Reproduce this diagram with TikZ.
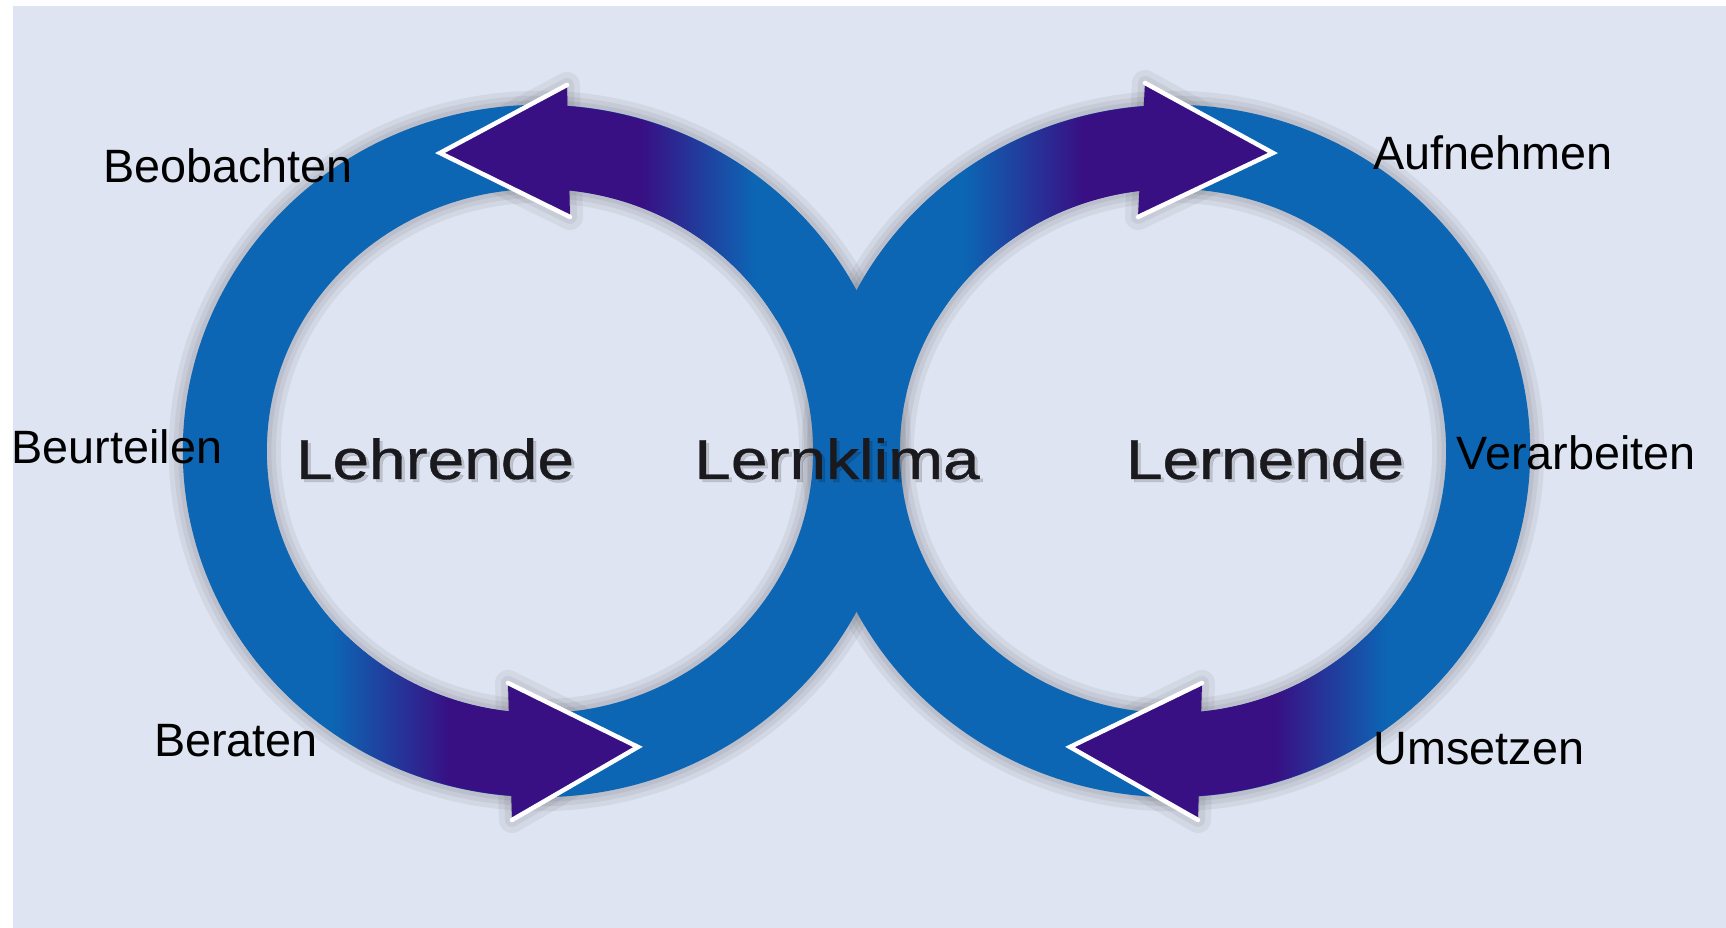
\documentclass[tikz,border=0pt]{standalone}
\usepackage{fontspec}
\setmainfont{Liberation Sans}
\newfontfamily\ctrfont[FakeBold=0.6]{Liberation Sans}
\definecolor{bg}{RGB}{223,228,242}
\definecolor{ringblue}{RGB}{12,102,180}
\definecolor{apurple}{RGB}{56,16,132}
\definecolor{txtdark}{RGB}{25,25,30}
\pgfdeclarehorizontalshading{pbshade}{100bp}{color(0bp)=(apurple); color(40bp)=(apurple); color(59bp)=(ringblue); color(100bp)=(ringblue)}
\pgfdeclarehorizontalshading{bpshade}{100bp}{color(0bp)=(ringblue); color(42bp)=(ringblue); color(62bp)=(apurple); color(100bp)=(apurple)}
% band along the mid ellipse: cx, cy, t1, t2, shading
\newcommand{\shaftband}[5]{%
  \shade[shading=#5] plot[domain=#3:#4, samples=50] ({#1+(315+42)*cos(\x)}, {#2+(304+42)*sin(\x)})
    -- plot[domain=#4:#3, samples=50] ({#1+(315-42)*cos(\x)}, {#2+(304-42)*sin(\x)}) -- cycle;}
\begin{document}
\begin{tikzpicture}[x=0.01cm, y=0.01cm,
  lbl/.style={font=\fontsize{13.3}{16}\selectfont, inner sep=0pt, anchor=base, text=black},
  ctr/.style={font=\ctrfont\fontsize{16}{19}\selectfont, inner sep=0pt, anchor=base, text=txtdark, xscale=1.17},
  ctrshadow/.style={ctr, text=black, opacity=0.15},
  ringstroke/.style={draw=ringblue, line width=0.84cm},
  ringshadow/.style={draw=black, opacity=0.055},
  headfill/.style={fill=apurple},
  headedge/.style={draw=white, line width=0.045cm, line cap=round, line join=miter},
  headshadow/.style={fill=black, draw=black, opacity=0.05, line join=round},
]
\useasboundingbox (0,0) rectangle (1726,928);
\fill[bg] (13,0) rectangle (1726,922);

% ring and head coordinates
\coordinate (lc) at (540,477);
\coordinate (rc) at (1173,477);
\coordinate (tl-tip) at (440,775); \coordinate (tl-o) at (567,843); \coordinate (tl-i) at (570,711);
\coordinate (tr-tip) at (1273,775); \coordinate (tr-o) at (1145,845); \coordinate (tr-i) at (1138,711);
\coordinate (bl-tip) at (638,181); \coordinate (bl-o) at (512,108); \coordinate (bl-i) at (508,245);
\coordinate (br-tip) at (1070,181); \coordinate (br-o) at (1198,108); \coordinate (br-i) at (1202,245);

% soft shadows
\begin{scope}[shift={(22,-34)}]
  \foreach \w in {1.12cm,1.02cm,0.93cm,0.84cm}{
    \path[ringshadow, line width=\w] (lc) ellipse [x radius=3.15cm, y radius=3.04cm];
    \path[ringshadow, line width=\w] (rc) ellipse [x radius=3.15cm, y radius=3.04cm];
  }
  \foreach \h in {tl,tr,bl,br}{
    \foreach \w in {0.26cm,0.14cm,0.02cm}{
      \path[headshadow, line width=\w] (\h-o) -- (\h-tip) -- (\h-i) -- cycle;
    }
  }
\end{scope}

% rings
\draw[ringstroke] (lc) ellipse [x radius=3.15cm, y radius=3.04cm];
\draw[ringstroke] (rc) ellipse [x radius=3.15cm, y radius=3.04cm];

% arrow shafts
\shaftband{540}{477}{87}{30}{pbshade}
\shaftband{1173}{477}{93}{150}{bpshade}
\shaftband{540}{477}{-93}{-150}{bpshade}
\shaftband{1173}{477}{-87}{-30}{pbshade}

% arrow heads
\foreach \h in {tl,tr,bl,br}{
  \fill[headfill] (\h-o) -- (\h-tip) -- (\h-i) -- cycle;
  \path[headedge] (\h-o) -- (\h-tip) -- (\h-i);
}

% centre labels
\node[ctrshadow] at (438,446) {Lehrende};
\node[ctrshadow] at (840,446) {Lernklima};
\node[ctrshadow] at (1268,446) {Lernende};
\node[ctr] (lehrende) at (435,449) {Lehrende};
\node[ctr] (lernklima) at (837,449) {Lernklima};
\node[ctr] (lernende) at (1265,449) {Lernende};

% outer labels
\node[lbl] (beobachten) at (228,745) {Beobachten};
\node[lbl] (beurteilen) at (117,464) {Beurteilen};
\node[lbl] (beraten) at (236,171) {Beraten};
\node[lbl] (aufnehmen) at (1493,758) {Aufnehmen};
\node[lbl] (verarbeiten) at (1576,458) {Verarbeiten};
\node[lbl] (umsetzen) at (1479,163) {Umsetzen};
\end{tikzpicture}
\end{document}
